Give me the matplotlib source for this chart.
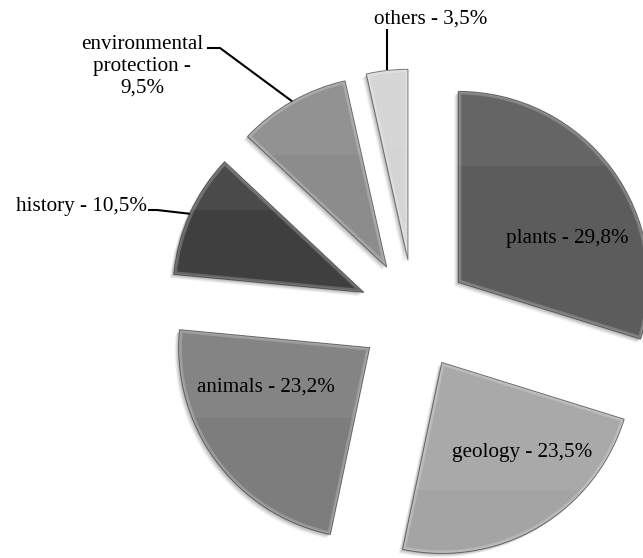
import numpy as np
import matplotlib
matplotlib.use("Agg")
import matplotlib.pyplot as plt
from matplotlib.patches import Wedge, Rectangle

# ---- data -------------------------------------------------------------
categories = ["plants", "geology", "animals", "history",
              "environmental protection", "others"]
shares = [29.8, 23.5, 23.2, 10.5, 9.5, 3.5]

# ---- style ------------------------------------------------------------
face_colors = ["#5c5c5c", "#a4a4a4", "#7d7d7d", "#3f3f3f", "#8c8c8c", "#d4d4d4"]
band_frac = [0.30, 0.65, 0.43, 0.37, 0.40, 0.40]   # lighter upper band per wedge
W, H = 643, 558
CENTER = (414, H - 315)
RADIUS = 191
EXPLODE = 55
FONT = dict(family="Liberation Serif", size=15.2, color="black")


def fmt(v):
    return f"{v:.1f}".replace(".", ",")


def label_for(name, v):
    if name == "environmental protection":
        return f"environmental\nprotection -\n{fmt(v)}%"
    return f"{name} - {fmt(v)}%"


fig = plt.figure(figsize=(W / 100, H / 100), dpi=100)
ax = fig.add_axes([0, 0, 1, 1])

wedges, _ = ax.pie(shares, colors=face_colors, startangle=90,
                   counterclock=False, radius=RADIUS, center=CENTER,
                   explode=[EXPLODE] * len(shares),
                   wedgeprops=dict(linewidth=0))

for i, w in enumerate(wedges):
    w.set_zorder(3)
    # soft drop shadow towards lower left
    for k, a in ((4, 0.05), (3, 0.07), (2, 0.09), (1, 0.10)):
        ax.add_patch(Wedge((w.center[0] - k, w.center[1] - k), w.r,
                           w.theta1, w.theta2, facecolor="black",
                           alpha=a, lw=0, zorder=2))
    # lighter upper band
    verts = w.get_path().vertices
    ymin, ymax = verts[:, 1].min(), verts[:, 1].max()
    xmin, xmax = verts[:, 0].min(), verts[:, 0].max()
    ythr = ymax - band_frac[i] * (ymax - ymin)
    band = Rectangle((xmin - 5, ythr), xmax - xmin + 10, ymax - ythr + 5,
                     facecolor="white", alpha=0.06, lw=0, zorder=3.5)
    band.set_clip_path(w)
    ax.add_patch(band)
    # bevelled rim
    rim = Wedge(w.center, w.r, w.theta1, w.theta2, facecolor="none",
                edgecolor="white", lw=4.5, alpha=0.20, zorder=4)
    rim.set_clip_path(w)
    ax.add_patch(rim)
    rim2 = Wedge(w.center, w.r, w.theta1, w.theta2, facecolor="none",
                 edgecolor="white", lw=2.0, alpha=0.13, zorder=4)
    rim2.set_clip_path(w)
    ax.add_patch(rim2)
    ax.add_patch(Wedge(w.center, w.r, w.theta1, w.theta2, facecolor="none",
                       edgecolor="#2a2a2a", lw=0.7, alpha=0.6, zorder=4.5))


def arc_point(w):
    t = np.deg2rad(0.5 * (w.theta1 + w.theta2))
    return (w.center[0] + w.r * np.cos(t), w.center[1] + w.r * np.sin(t))


labels = [label_for(c, v) for c, v in zip(categories, shares)]

# labels drawn inside the large wedges
inside_pos = {0: (567, 239), 1: (522, 452), 2: (266, 387)}
for i, (x, y) in inside_pos.items():
    ax.text(x, H - y, labels[i], ha="center", va="center", zorder=6, **FONT)

# outside labels with leader lines
# history
ax.text(81, H - 207, labels[3], ha="center", va="center", zorder=6, **FONT)
px, py = arc_point(wedges[3])
ax.plot([148, 157, px], [H - 210, H - 210, py], color="black", lw=1.5,
        zorder=5, solid_capstyle="butt")

# environmental protection
ax.text(142, H - 66, labels[4], ha="center", va="center", zorder=6,
        linespacing=1.2, **FONT)
px, py = arc_point(wedges[4])
ax.plot([207, 220, px], [H - 48, H - 48, py], color="black", lw=1.5,
        zorder=5, solid_capstyle="butt")

# others
ax.text(431, H - 19, labels[5], ha="center", va="center", zorder=6, **FONT)
px, py = arc_point(wedges[5])
ax.plot([px, px], [H - 29, py], color="black", lw=1.5, zorder=5,
        solid_capstyle="butt")

ax.set_xlim(0, W)
ax.set_ylim(0, H)
ax.set_aspect("equal")
ax.axis("off")
fig.savefig("out.png", dpi=100, facecolor="white")
